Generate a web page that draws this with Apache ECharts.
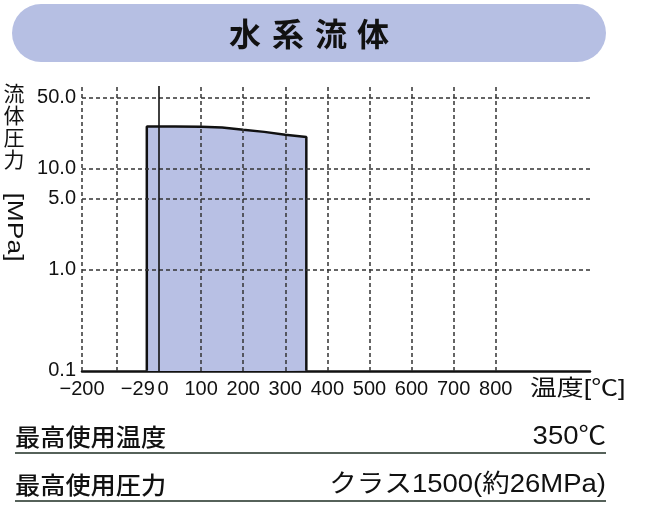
<!DOCTYPE html>
<html>
<head>
<meta charset="utf-8">
<script src="https://cdn.jsdelivr.net/npm/echarts@6/dist/echarts.min.js"></script>
<style>
html,body{margin:0;padding:0;background:#fff;}
#c{width:669px;height:520px;}
</style>
</head>
<body>
<div id="c"></div>
<script>
// ---- data ----
const xTickValues = [-183, -29, 0, 100, 200, 300, 400, 500, 600, 700, 800];
const xTickLabels = ['−200', '−29', '0', '100', '200', '300', '400', '500', '600', '700', '800'];
const xGridValues = [-183, -100, 100, 200, 300, 400, 500, 600, 700, 800];
const yTickValues = [0.1, 1, 5, 10, 50];
const yTickLabels = ['0.1', '1.0', '5.0', '10.0', '50.0'];
const yGridValues = [1, 5, 10, 50];
const tempC = [-29, 38, 100, 150, 200, 250, 300, 350];
const pressureMPa = [25.9, 25.9, 25.8, 25.3, 24.0, 22.9, 21.4, 20.4];
const titleChars = ['水', '系', '流', '体'];
const yName = ['流', '体', '圧', '力'];
const yUnit = '[MPa]';
const xName = '温度[℃]';
const specRows = [
  ['最高使用温度', '350℃'],
  ['最高使用圧力', 'クラス1500(約26MPa)']
];
// ---- chart ----
const X_MIN = -183, X_MAX = 1024, BASE = yTickValues[0], Y_MIN = 0.0995, Y_MAX = 65;
const areaData = [[tempC[0], BASE]]
  .concat(tempC.map((t, i) => [t, pressureMPa[i]]))
  .concat([[tempC[tempC.length - 1], BASE]]);

const numFont = '"Liberation Sans", Arial, sans-serif';
const cjkFont = '"Liberation Sans", "Noto Sans CJK JP", sans-serif';

const gridLineStyle = {type: [4, 3], color: '#333', width: 1.5};
const markData = [];
xGridValues.forEach(v => markData.push({xAxis: v, lineStyle: gridLineStyle, label: {show: false}}));
yTickValues.forEach((v, i) => markData.push({
  yAxis: v,
  lineStyle: yGridValues.indexOf(v) >= 0 ? gridLineStyle : {color: 'rgba(0,0,0,0)', width: 0},
  label: {show: true, position: 'start', distance: 6, formatter: yTickLabels[i],
    color: '#111', fontSize: 20, fontFamily: numFont}
}));
markData.push({xAxis: 0, lineStyle: {type: 'solid', color: '#111', width: 1.6}, label: {show: false}});

const chart = echarts.init(document.getElementById('c'), null, {renderer: 'canvas'});

const graphics = [];
graphics.push({type: 'rect', shape: {x: 12, y: 4, width: 594, height: 58, r: 29},
  style: {fill: '#b6bfe3'}, z: 0});
const titleX = [245, 288, 331, 373];
titleChars.forEach((c, i) => graphics.push({type: 'text', x: titleX[i], y: 34,
  style: {text: c, fill: '#111', font: 'bold 32px "Noto Sans CJK JP"', textAlign: 'center', textVerticalAlign: 'middle'}}));
yName.forEach((c, i) => graphics.push({type: 'text', x: 14, y: 93 + i * 22,
  style: {text: c, fill: '#111', font: '21px "Noto Sans CJK JP"', textAlign: 'center', textVerticalAlign: 'middle'}}));
graphics.push({type: 'text', x: 14, y: 227, rotation: -Math.PI / 2, scaleX: 1.2,
  style: {text: yUnit, fill: '#111', font: '22px ' + numFont, textAlign: 'center', textVerticalAlign: 'middle'}});
graphics.push({type: 'text', x: 530, y: 389, scaleX: 1.22,
  style: {text: xName, fill: '#111', font: '22px ' + cjkFont, textAlign: 'left', textVerticalAlign: 'middle'}});
specRows.forEach((row, i) => {
  const y = 437 + i * 48;
  graphics.push({type: 'text', x: 15, y: y, scaleX: 1.05,
    style: {text: row[0], fill: '#111', font: '500 24px "Noto Sans CJK JP"', textAlign: 'left', textVerticalAlign: 'middle'}});
  graphics.push({type: 'text', x: 606, y: y, scaleX: 1.1,
    style: {text: row[1], fill: '#111', font: '25px ' + cjkFont, textAlign: 'right', textVerticalAlign: 'middle'}});
  graphics.push({type: 'line', shape: {x1: 15, y1: y + 16, x2: 606, y2: y + 16},
    style: {stroke: '#56625a', lineWidth: 2}});
});

chart.setOption({
  animation: false,
  backgroundColor: '#fff',
  grid: {left: 82, right: 79, top: 86, bottom: 149},
  xAxis: {
    type: 'value', min: X_MIN, max: X_MAX,
    axisLine: {show: true, lineStyle: {color: '#111', width: 2.5}},
    axisTick: {show: false},
    splitLine: {show: false},
    axisLabel: {
      customValues: xTickValues,
      showMinLabel: true, showMaxLabel: true,
      margin: 8,
      color: '#111', fontSize: 20, fontFamily: numFont,
      formatter: v => {
        const i = xTickValues.indexOf(v);
        const t = i >= 0 ? xTickLabels[i] : '';
        if (v === -29) return '{l|' + t + '}';
        if (v === 0) return '{r|' + t + '}';
        return t;
      },
      rich: {
        l: {padding: [0, 18, 0, 0], fontSize: 20, fontFamily: numFont, color: '#111'},
        r: {padding: [0, 0, 0, 8], fontSize: 20, fontFamily: numFont, color: '#111'}
      }
    }
  },
  yAxis: {
    type: 'log', min: Y_MIN, max: Y_MAX, logBase: 10,
    axisLine: {show: false}, axisTick: {show: false},
    axisLabel: {show: false}, splitLine: {show: false}
  },
  series: [
    {
      type: 'line', data: areaData, symbol: 'none', z: 2,
      lineStyle: {color: '#111', width: 2.5},
      areaStyle: {color: '#b8c0e4', opacity: 1, origin: 'start'}
    },
    {
      type: 'line', data: [], z: 3, silent: true,
      markLine: {silent: true, symbol: ['none', 'none'], animation: false, data: markData}
    }
  ],
  graphic: graphics
});
</script>
</body>
</html>
